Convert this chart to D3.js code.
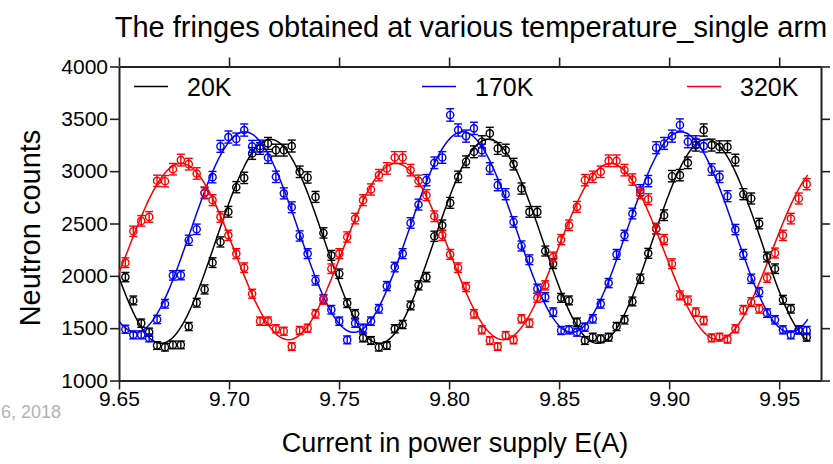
<!DOCTYPE html>
<html>
<head>
<meta charset="utf-8">
<script src="https://cdn.jsdelivr.net/npm/d3@7/dist/d3.min.js"></script>
<style>
  html, body { margin: 0; padding: 0; background: #fff; }
  svg { display: block; font-family: "Liberation Sans", Arial, sans-serif; }
</style>
</head>
<body>
<svg id="chart" width="833" height="464"></svg>
<script>
// Scan currents (A), shared by all three temperatures
const current = [
  9.6529, 9.6565, 9.6601, 9.6637, 9.6673, 9.6709, 9.6745, 9.6781, 9.6817, 9.6853,
  9.6889, 9.6925, 9.6961, 9.6997, 9.7033, 9.7069, 9.7105, 9.7141, 9.7177, 9.7213,
  9.7249, 9.7285, 9.7321, 9.7357, 9.7393, 9.7429, 9.7465, 9.7501, 9.7537, 9.7573,
  9.7609, 9.7645, 9.7681, 9.7717, 9.7753, 9.7789, 9.7825, 9.7861, 9.7897, 9.7933,
  9.7969, 9.8005, 9.8041, 9.8077, 9.8113, 9.8149, 9.8185, 9.8221, 9.8257, 9.8293,
  9.8329, 9.8365, 9.8401, 9.8437, 9.8473, 9.8509, 9.8545, 9.8581, 9.8617, 9.8653,
  9.8689, 9.8725, 9.8761, 9.8797, 9.8833, 9.8869, 9.8905, 9.8941, 9.8977, 9.9013,
  9.9049, 9.9085, 9.9121, 9.9157, 9.9193, 9.9229, 9.9265, 9.9301, 9.9337, 9.9373,
  9.9409, 9.9445, 9.9481, 9.9517, 9.9553, 9.9589, 9.9625
];

// Neutron counts at 20 K
const counts20K = [
  1988, 1765, 1548, 1462, 1334, 1318, 1340, 1340, 1516, 1743,
  1870, 2126, 2324, 2612, 2847, 2936, 3169, 3217, 3265, 3201,
  3201, 3240, 2994, 2940, 2754, 2410, 2196, 2020, 1739, 1637,
  1407, 1382, 1318, 1334, 1494, 1535, 1717, 1909, 1988, 2378,
  2483, 2697, 2946, 3090, 3185, 3281, 3361, 3217, 3201, 3067,
  2834, 2611, 2611, 2237, 2116, 1790, 1765, 1557, 1382, 1414,
  1398, 1414, 1516, 1580, 1755, 1972, 2215, 2451, 2579, 2952,
  2962, 3080, 3249, 3393, 3249, 3233, 3233, 3106, 2780, 2739,
  2499, 2180, 2068, 1771, 1685, 1484, 1414
];

// Neutron counts at 170 K
const counts170K = [
  1490, 1436, 1436, 1407, 1583, 1733, 2004, 2007, 2340, 2445,
  2790, 2943, 3237, 3326, 3307, 3393, 3237, 3240, 3130, 2946,
  2788, 2655, 2381, 2212, 1956, 1778, 1676, 1567, 1388, 1548,
  1500, 1567, 1685, 1902, 2084, 2212, 2505, 2681, 2914, 3080,
  3131, 3537, 3393, 3335, 3409, 3201, 3026, 2866, 2780, 2515,
  2285, 2154, 1877, 1797, 1653, 1478, 1484, 1462, 1510, 1589,
  1733, 1931, 2205, 2387, 2595, 2818, 2905, 3224, 3265, 3335,
  3441, 3281, 3281, 3240, 3016, 2946, 2761, 2442, 2205, 1972,
  1845, 1644, 1580, 1484, 1436, 1484, 1478
];

// Neutron counts at 320 K
const counts320K = [
  2126, 2426, 2525, 2563, 2908, 2904, 3019, 3106, 3067, 2978,
  2796, 2723, 2563, 2387, 2212, 2078, 1829, 1567, 1567, 1494,
  1471, 1324, 1478, 1500, 1637, 1771, 2068, 2212, 2371, 2547,
  2723, 2825, 2962, 3026, 3131, 3131, 3010, 2908, 2770, 2569,
  2387, 2205, 2078, 1893, 1637, 1484, 1382, 1324, 1430, 1388,
  1589, 1548, 1790, 1909, 2180, 2346, 2483, 2659, 2914, 2946,
  2994, 3099, 3099, 3010, 2920, 2790, 2732, 2451, 2346, 2116,
  1813, 1765, 1653, 1573, 1407, 1414, 1395, 1494, 1676, 1749,
  1685, 1982, 2218, 2387, 2547, 2739, 2876
];

// Sinusoidal fringe fits: offset, amplitude, period (A), position of a maximum (A)
const seriesNames = ["20K", "170K", "320K"];
const seriesColors = ["#000000", "#0000ff", "#ff0000"];
const fitOffset = [2330, 2418, 2232];
const fitAmplitude = [975, 958, 842];
const fitPeriod = [0.0992, 0.0991, 0.0976];
const fitPeak = [9.7187, 9.7071, 9.6782];
const fitRange = [9.65, 9.963];

const xTicks = [9.65, 9.70, 9.75, 9.80, 9.85, 9.90, 9.95];
const yTicks = [1000, 1500, 2000, 2500, 3000, 3500, 4000];

const series = [counts20K, counts170K, counts320K];

const svg = d3.select("#chart");
const plotLeft = 119, plotRight = 821, plotTop = 66.5, plotBottom = 380.5;

const x = d3.scaleLinear().domain([9.65, 9.969]).range([plotLeft, plotRight]);
const y = d3.scaleLinear().domain([1000, 4000]).range([plotBottom, plotTop]);

const axisColor = "#222";
const tickFont = "21px";

// Title
svg.append("text")
  .attr("x", 471).attr("y", 37)
  .attr("text-anchor", "middle")
  .style("font-size", "29px")
  .text("The fringes obtained at various temperature_single arm");

// Axes: full frame with outward ticks, labels on left and bottom
const bottomAxis = d3.axisBottom(x).tickValues(xTicks).tickFormat(d3.format(".2f"))
  .tickSize(9).tickSizeOuter(0).tickPadding(2);
const topAxis = d3.axisTop(x).tickValues(xTicks).tickFormat("").tickSize(9).tickSizeOuter(0);
const leftAxis = d3.axisLeft(y).tickValues(yTicks).tickFormat(d3.format("d"))
  .tickSize(9).tickSizeOuter(0).tickPadding(2);
const rightAxis = d3.axisRight(y).tickValues(yTicks).tickFormat("").tickSize(9).tickSizeOuter(0);

function styleAxis(g) {
  g.selectAll("path.domain").attr("stroke", axisColor).attr("stroke-width", 2);
  g.selectAll(".tick line").attr("stroke", axisColor).attr("stroke-width", 1.6);
  g.selectAll(".tick text").attr("fill", "#000").style("font-size", tickFont)
    .style("font-family", "'Liberation Sans', Arial, sans-serif");
}

svg.append("g").attr("transform", `translate(0,${plotBottom})`).call(bottomAxis).call(styleAxis);
svg.append("g").attr("transform", `translate(0,${plotTop})`).call(topAxis).call(styleAxis);
svg.append("g").attr("transform", `translate(${plotLeft},0)`).call(leftAxis).call(styleAxis);
svg.append("g").attr("transform", `translate(${plotRight},0)`).call(rightAxis).call(styleAxis);

// Axis titles
svg.append("text")
  .attr("x", 455).attr("y", 452)
  .attr("text-anchor", "middle")
  .style("font-size", "27px")
  .text("Current in power supply E(A)");

svg.append("text")
  .attr("transform", "translate(40,228) rotate(-90)")
  .attr("text-anchor", "middle")
  .style("font-size", "29px")
  .text("Neutron counts");

// Date stamp in the lower-left corner
svg.append("text")
  .attr("x", 1).attr("y", 418)
  .attr("text-anchor", "start")
  .attr("fill", "#b3b3b3")
  .style("font-size", "18px")
  .text("6, 2018");

// Fitted curves
const line = d3.line().x(d => x(d[0])).y(d => y(d[1]));
const fitSamples = d3.range(0, 401).map(i => fitRange[0] + (fitRange[1] - fitRange[0]) * i / 400);

const plot = svg.append("g");

series.forEach((vals, si) => {
  const fitPts = fitSamples.map(c => [c,
    fitOffset[si] + fitAmplitude[si] * Math.cos(2 * Math.PI * (c - fitPeak[si]) / fitPeriod[si])]);
  plot.append("path")
    .datum(fitPts)
    .attr("fill", "none")
    .attr("stroke", seriesColors[si])
    .attr("stroke-width", 1.5)
    .attr("d", line);
});

// Measured points with counting-statistics error bars
series.forEach((vals, si) => {
  const g = plot.append("g").attr("stroke", seriesColors[si]).attr("fill", "none");
  const pts = vals.map((v, i) => ({ c: current[i], n: v, e: Math.sqrt(v) }));
  const bars = g.selectAll("g.pt").data(pts).join("g").attr("class", "pt");
  bars.append("line")
    .attr("x1", d => x(d.c)).attr("x2", d => x(d.c))
    .attr("y1", d => y(d.n - d.e)).attr("y2", d => y(d.n + d.e))
    .attr("stroke-width", 1.4);
  bars.append("line")
    .attr("x1", d => x(d.c) - 4).attr("x2", d => x(d.c) + 4)
    .attr("y1", d => y(d.n + d.e)).attr("y2", d => y(d.n + d.e))
    .attr("stroke-width", 1.4);
  bars.append("line")
    .attr("x1", d => x(d.c) - 4).attr("x2", d => x(d.c) + 4)
    .attr("y1", d => y(d.n - d.e)).attr("y2", d => y(d.n - d.e))
    .attr("stroke-width", 1.4);
  bars.append("circle")
    .attr("cx", d => x(d.c)).attr("cy", d => y(d.n))
    .attr("r", 3.6)
    .attr("fill", "none")
    .attr("stroke-width", 1.4);
});

// Legend
const legendX = [134, 422, 687];
const legend = svg.append("g");
seriesNames.forEach((name, i) => {
  legend.append("line")
    .attr("x1", legendX[i]).attr("x2", legendX[i] + 34)
    .attr("y1", 86.5).attr("y2", 86.5)
    .attr("stroke", seriesColors[i]).attr("stroke-width", 1.5);
  legend.append("text")
    .attr("x", legendX[i] + 53).attr("y", 95.5)
    .style("font-size", "25px")
    .text(name);
});
</script>
</body>
</html>
